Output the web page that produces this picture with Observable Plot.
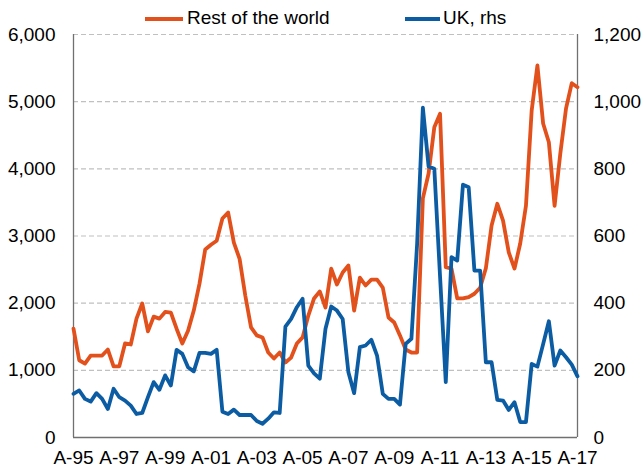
<!DOCTYPE html>
<html>
<head>
<meta charset="utf-8">
<script src="https://cdn.jsdelivr.net/npm/d3@7"></script>
<script src="https://cdn.jsdelivr.net/npm/@observablehq/plot@0.6"></script>
<style>
  html, body { margin: 0; padding: 0; background: #fff; }
  #wrap { position: relative; width: 641px; height: 472px; font-family: "Liberation Sans", Arial, sans-serif; }
  .leg { position: absolute; font-size: 19px; color: #000; line-height: 1; white-space: nowrap; }
  .sw { position: absolute; height: 4px; }
</style>
</head>
<body>
<div id="wrap"></div>
<script>
// Quarterly series, 1995 Q1 .. 2017 Q1 (89 quarters)
const tickLabels = ["A-95","A-97","A-99","A-01","A-03","A-05","A-07","A-09","A-11","A-13","A-15","A-17"];
const restOfWorld = [
  1620,1150,1100,1220,1220,1220,1310,1060,1060,1400,
  1385,1770,1995,1580,1800,1770,1870,1860,1620,1400,
  1590,1890,2290,2800,2870,2930,3260,3350,2900,2660,
  2110,1640,1520,1490,1265,1176,1265,1117,1190,1400,
  1490,1816,2070,2175,1935,2515,2278,2456,2560,1890,
  2380,2263,2350,2350,2233,1787,1712,1520,1310,1265,
  1265,3560,3930,4620,4820,2535,2515,2070,2070,2090,
  2140,2230,2520,3156,3480,3230,2755,2515,2888,3450,
  4870,5540,4675,4396,3450,4228,4900,5275,5215
];
const uk = [
  130,140,115,107,132,115,85,145,120,110,
  95,70,73,120,165,142,185,155,261,249,
  209,197,252,252,249,261,77,70,83,67,
  67,67,49,41,56,75,73,330,353,388,
  413,214,191,175,324,390,378,353,194,132,
  269,274,291,244,130,115,115,98,279,294,
  577,982,807,800,480,165,537,527,753,745,
  497,497,224,224,112,110,82,105,46,46,
  219,211,278,346,214,259,239,217,182
];
const leftTicks = [0,1000,2000,3000,4000,5000,6000];
const rightFactor = 5; // 6,000 on the left = 1,200 on the right

const orange = "#E2501C";
const blue = "#0B5CA3";

const rowRW = restOfWorld.map((v, i) => ({i, v}));
const rowUK = uk.map((v, i) => ({i, v: v * rightFactor}));
const xTicks = tickLabels.map((_, k) => k * 8);
const fmt = d3.format(",");

const chart = Plot.plot({
  width: 641,
  height: 472,
  marginLeft: 73,
  marginRight: 64,
  marginTop: 34,
  marginBottom: 35,
  style: {fontFamily: "'Liberation Sans', Arial, sans-serif", fontSize: "19px", color: "#000", background: "#fff"},
  x: {domain: [0, restOfWorld.length - 1]},
  y: {domain: [0, 6000]},
  marks: [
    Plot.ruleY(leftTicks.filter(d => d > 0), {stroke: "#c0c0c0", strokeWidth: 1.2, strokeDasharray: "5,3"}),
    Plot.ruleX([0], {stroke: "#707070", strokeWidth: 1.3}),
    Plot.ruleX([restOfWorld.length - 1], {stroke: "#707070", strokeWidth: 1.3}),
    Plot.ruleY([0], {stroke: "#707070", strokeWidth: 1.3}),
    Plot.axisY({anchor: "left", ticks: leftTicks, tickSize: 0, tickPadding: 18, tickFormat: fmt, label: null}),
    Plot.axisY({anchor: "right", ticks: leftTicks, tickSize: 0, tickPadding: 16, tickFormat: d => fmt(d / rightFactor), label: null}),
    Plot.axisX({ticks: xTicks, tickSize: 0, tickPadding: 13, tickFormat: d => tickLabels[d / 8], label: null}),
    Plot.line(rowRW, {x: "i", y: "v", stroke: orange, strokeWidth: 3.8}),
    Plot.line(rowUK, {x: "i", y: "v", stroke: blue, strokeWidth: 3.8})
  ]
});

const wrap = document.getElementById("wrap");
wrap.appendChild(chart);

function legendItem(color, label, x0, x1, tx) {
  const sw = document.createElement("div");
  sw.className = "sw";
  sw.style.left = x0 + "px";
  sw.style.width = (x1 - x0) + "px";
  sw.style.top = "17px";
  sw.style.background = color;
  wrap.appendChild(sw);
  const t = document.createElement("div");
  t.className = "leg";
  t.style.left = tx + "px";
  t.style.top = "8px";
  t.textContent = label;
  wrap.appendChild(t);
}
legendItem(orange, "Rest of the world", 145, 183, 187);
legendItem(blue, "UK, rhs", 405, 440, 443);
chart.style.position = "absolute";
chart.style.left = "0px";
chart.style.top = "0px";
</script>
</body>
</html>
